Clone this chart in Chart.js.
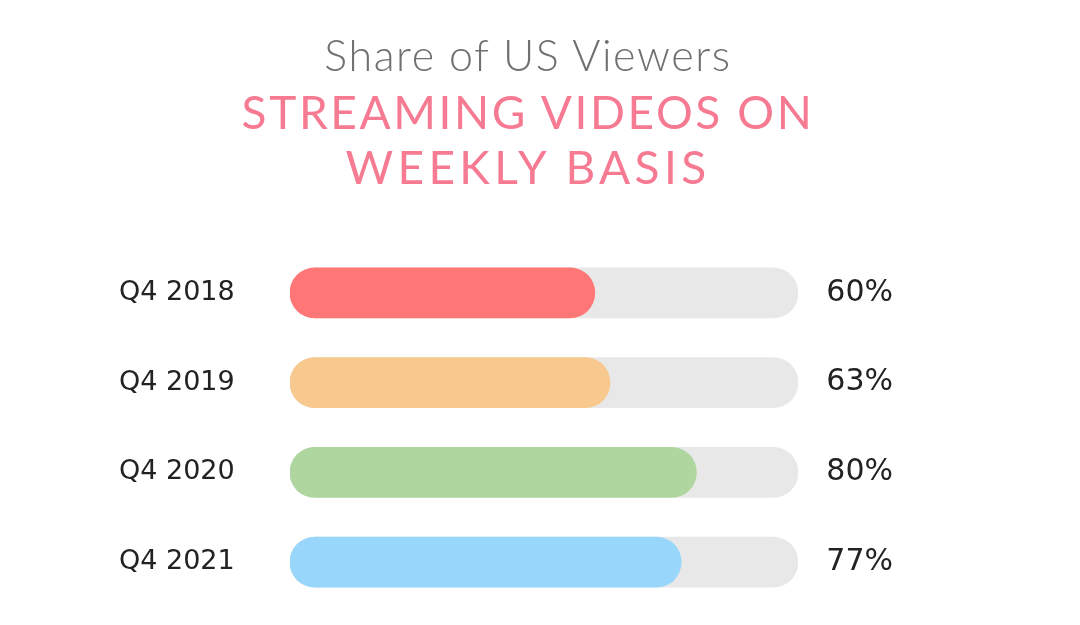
<!DOCTYPE html>
<html>
<head>
<meta charset="utf-8">
<script src="https://cdn.jsdelivr.net/npm/chart.js@4"></script>
<style>
  html, body { margin: 0; padding: 0; background: #fff; }
  #wrap { position: relative; width: 1080px; height: 625px; }
  .head { position: absolute; left: 0; width: 1056px; text-align: center; font-family: Lato, sans-serif; margin: 0; }
  #title { top: 29px; font-size: 43px; line-height: 1.2; font-weight: 300; color: #707070; letter-spacing: 1.6px; }
  #subtitle { top: 84px; font-size: 46px; line-height: 55px; font-weight: 400; color: #f57a92; letter-spacing: 2.6px; }
  #subtitle span { letter-spacing: 4.4px; }
</style>
</head>
<body>
<div id="wrap">
  <div class="head" id="title">Share of US Viewers</div>
  <div class="head" id="subtitle">STREAMING VIDEOS ON<br><span>WEEKLY BASIS</span></div>
  <canvas id="chart"></canvas>
</div>
<script>
// data
const categories = ["Q4 2018", "Q4 2019", "Q4 2020", "Q4 2021"];
const shares = [60, 63, 80, 77];
const trackValues = [100, 100, 100, 100];
const barColors = ["#ff7676", "#f7c98f", "#b0d69f", "#98d6fb"];
const valueLabels = shares.map(v => v + "%");

new Chart(document.getElementById("chart"), {
  type: "bar",
  data: {
    labels: categories,
    datasets: [
      {
        data: shares,
        backgroundColor: barColors,
        borderRadius: 25,
        borderSkipped: false,
        barThickness: 50,
        grouped: false,
        order: 1
      },
      {
        data: trackValues,
        backgroundColor: "#e8e8e8",
        borderRadius: 25,
        borderSkipped: false,
        barThickness: 50,
        grouped: false,
        order: 2
      }
    ]
  },
  options: {
    indexAxis: "y",
    responsive: true,
    maintainAspectRatio: false,
    animation: false,
    layout: { padding: { top: 248, right: 187, bottom: 17, left: 119 } },
    scales: {
      x: { min: 0, max: 100, display: false },
      // labels left-aligned at the axis' left edge
      y: {
        position: "left",
        grid: { display: false, drawTicks: false },
        border: { display: false },
        ticks: { color: "#222", font: { family: "DejaVu Sans", size: 27 }, padding: 0, crossAlign: "far" },
        afterFit(scale) { scale.width = 171; }
      },
      // percentages, right-aligned at the axis' right edge
      y2: {
        type: "category",
        labels: valueLabels,
        position: "right",
        offset: true,
        grid: { display: false, drawTicks: false },
        border: { display: false },
        ticks: { color: "#222", font: { family: "DejaVu Sans", size: 30 }, padding: 0, crossAlign: "far" },
        afterFit(scale) { scale.width = 95; }
      }
    },
    plugins: {
      legend: { display: false },
      tooltip: { enabled: false }
    }
  }
});
</script>
</body>
</html>
